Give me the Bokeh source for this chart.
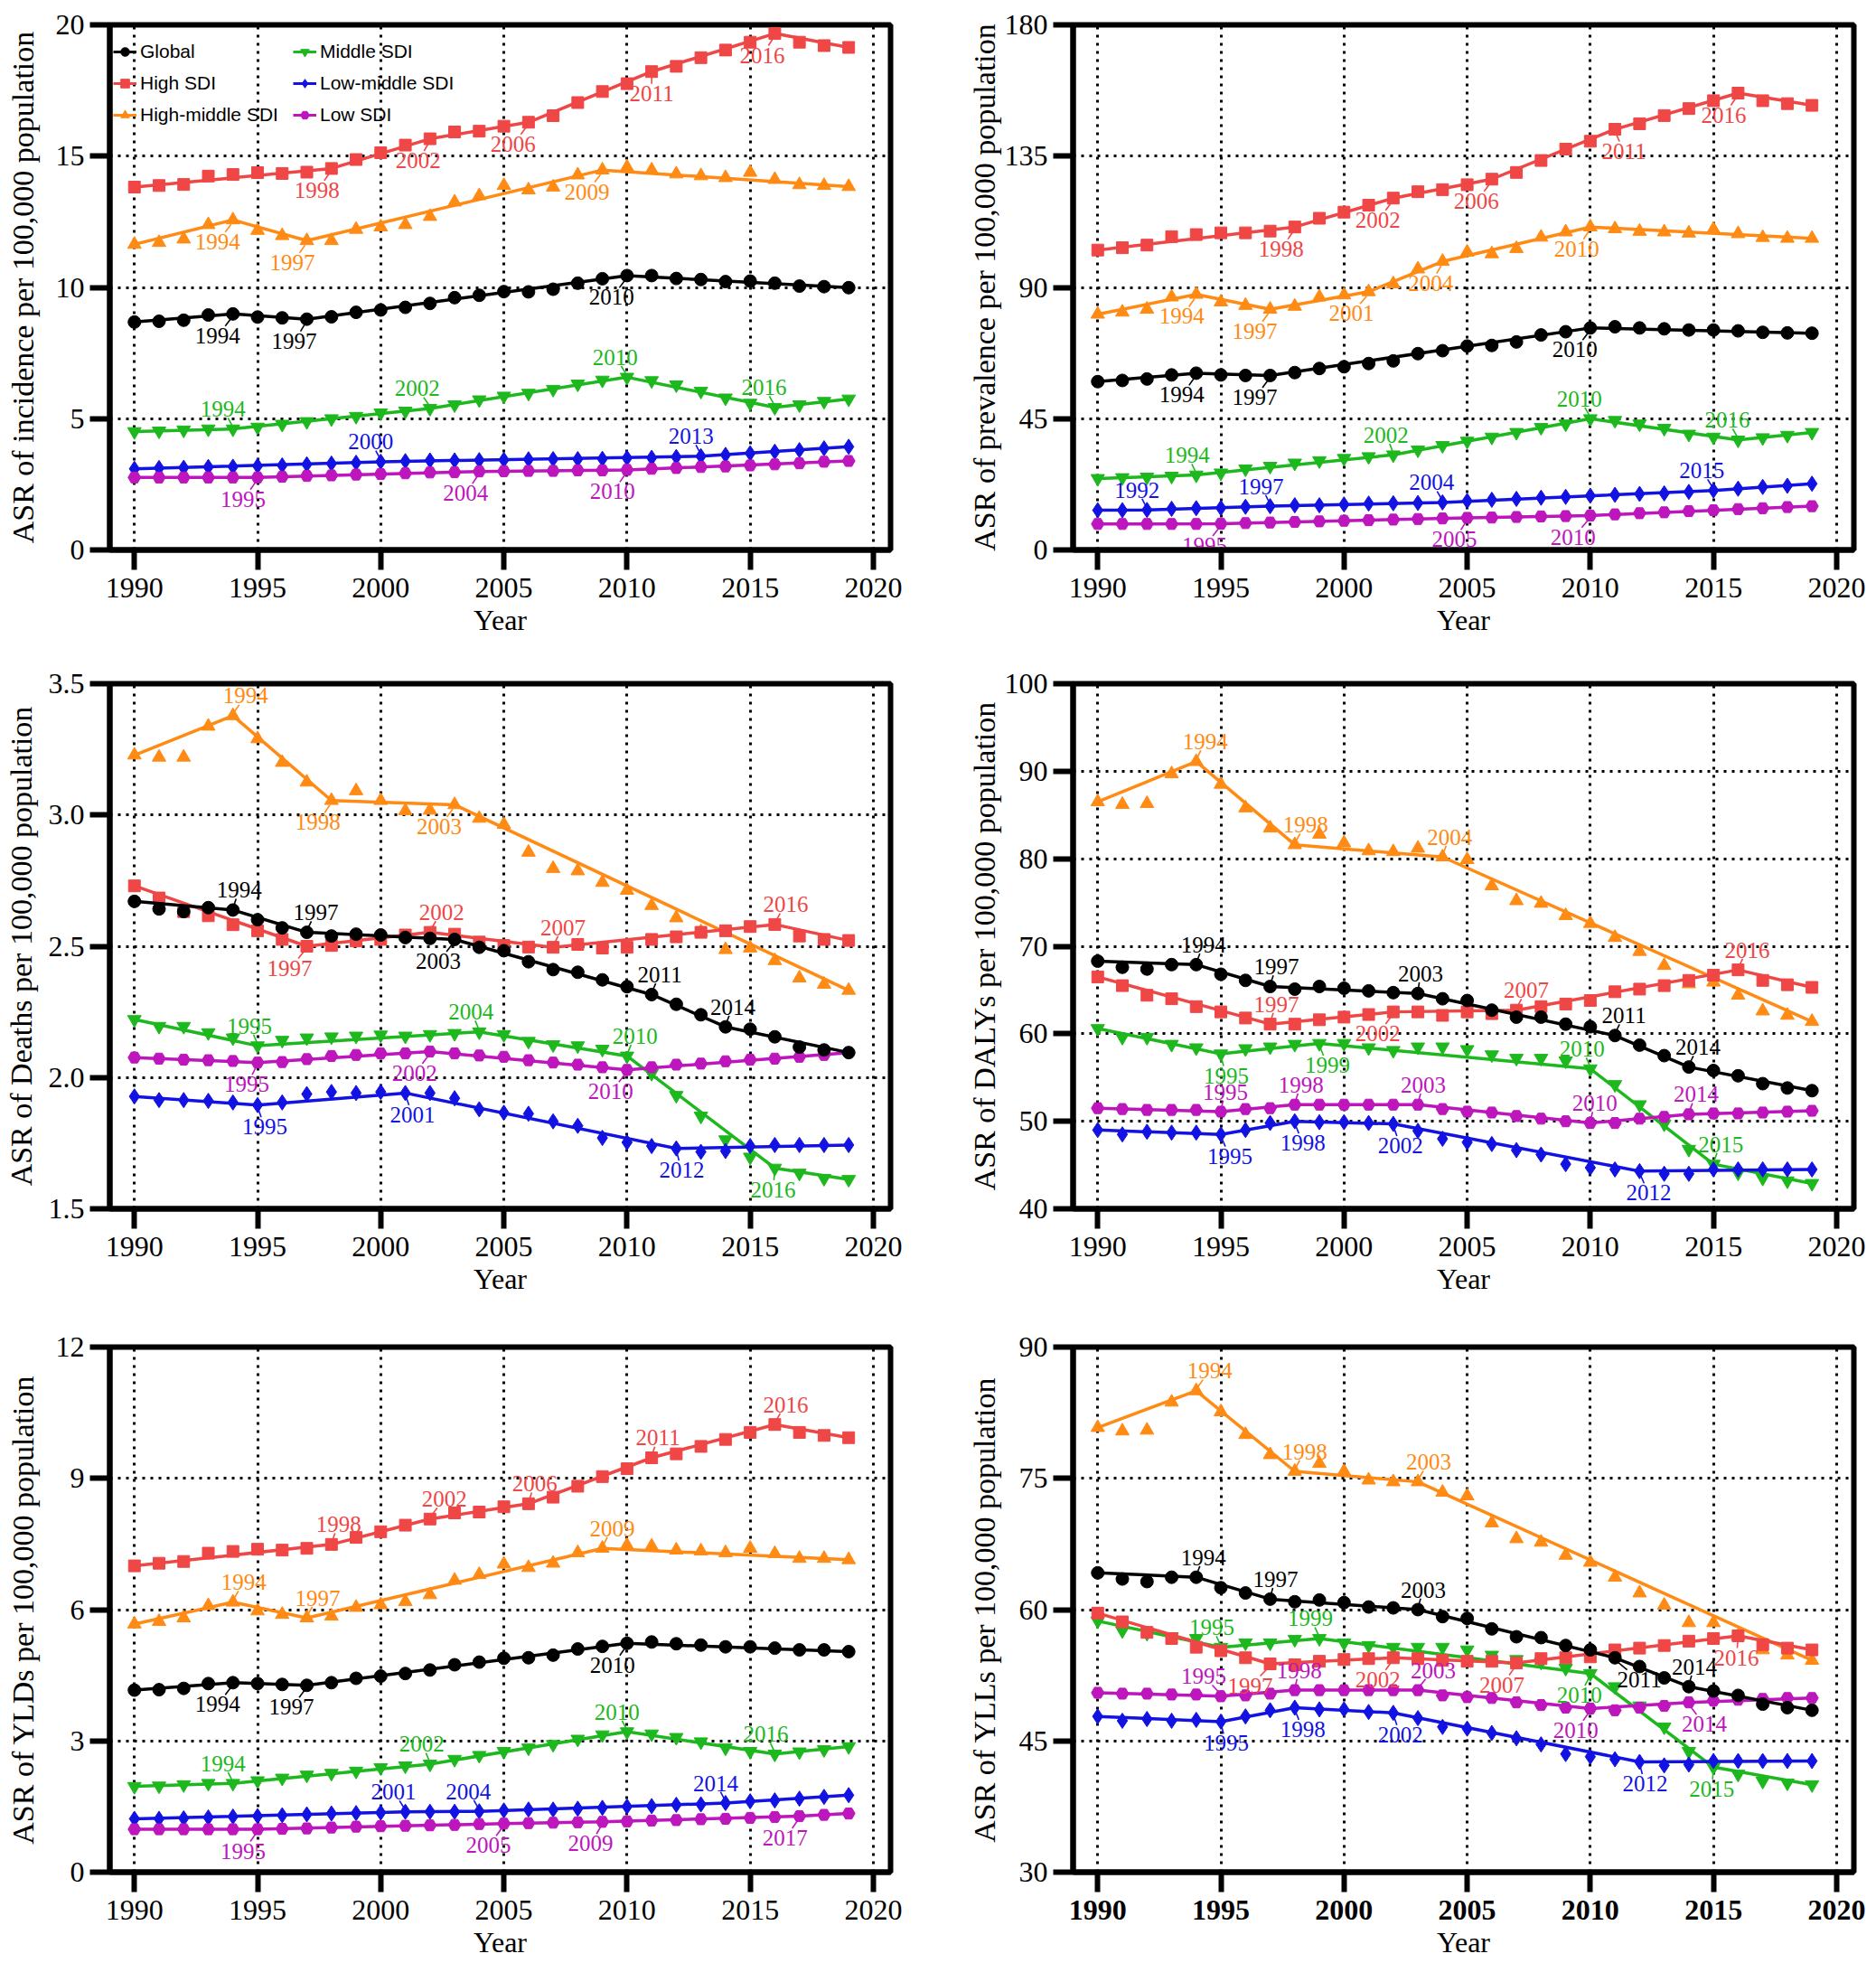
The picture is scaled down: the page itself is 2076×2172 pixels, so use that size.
from bokeh.plotting import figure
from bokeh.models import Range1d, FixedTicker, Legend, LegendItem, NumeralTickFormatter, ColumnDataSource
from bokeh.layouts import gridplot
from bokeh.embed import file_html
from bokeh.resources import INLINE
from bokeh.core.properties import value

YEARS = list(range(1990, 2020))
X_TICKS = [1990, 1995, 2000, 2005, 2010, 2015, 2020]
SERIES = ["Global", "High SDI", "High-middle SDI", "Middle SDI", "Low-middle SDI", "Low SDI"]

# ---------------- Incidence ----------------
inc_ticks = [0, 5, 10, 15, 20]
inc_global = [8.68, 8.71, 8.75, 8.95, 8.99, 8.87, 8.84, 8.79, 8.88, 9.05, 9.14, 9.24, 9.39, 9.61, 9.70,
              9.84, 9.83, 9.93, 10.16, 10.33, 10.45, 10.45, 10.34, 10.30, 10.22, 10.24, 10.16, 10.05, 10.03, 9.99]
inc_high = [13.82, 13.88, 13.92, 14.24, 14.30, 14.37, 14.34, 14.39, 14.53, 14.87, 15.13, 15.42, 15.66, 15.92, 15.95,
            16.14, 16.29, 16.54, 17.04, 17.46, 17.76, 18.22, 18.42, 18.75, 19.04, 19.34, 19.67, 19.34, 19.21, 19.14]
inc_hm = [11.64, 11.71, 11.84, 12.39, 12.57, 12.17, 11.97, 11.78, 11.78, 12.21, 12.30, 12.39, 12.70, 13.25, 13.49,
          13.88, 13.71, 13.82, 14.28, 14.47, 14.58, 14.47, 14.32, 14.25, 14.18, 14.38, 14.11, 13.91, 13.88, 13.84]
inc_mid = [4.51, 4.53, 4.57, 4.61, 4.61, 4.68, 4.79, 4.89, 5.00, 5.09, 5.22, 5.29, 5.39, 5.53, 5.72,
           5.86, 5.97, 6.12, 6.32, 6.47, 6.58, 6.45, 6.29, 6.05, 5.79, 5.59, 5.43, 5.53, 5.66, 5.75]
inc_lm = [3.09, 3.12, 3.13, 3.16, 3.17, 3.20, 3.22, 3.26, 3.29, 3.32, 3.36, 3.38, 3.41, 3.41, 3.42,
          3.43, 3.45, 3.46, 3.46, 3.47, 3.50, 3.51, 3.54, 3.57, 3.62, 3.68, 3.74, 3.80, 3.87, 3.93]
inc_low = [2.76, 2.76, 2.76, 2.76, 2.76, 2.76, 2.79, 2.82, 2.84, 2.87, 2.89, 2.92, 2.95, 2.96, 2.99,
           3.00, 3.01, 3.01, 3.03, 3.03, 3.05, 3.09, 3.12, 3.16, 3.18, 3.22, 3.26, 3.30, 3.36, 3.39]
inc_joinpoints = {"Global": [1994, 1997, 2010], "High SDI": [1998, 2002, 2006, 2011, 2016],
                  "High-middle SDI": [1994, 1997, 2009], "Middle SDI": [1994, 2002, 2010, 2016],
                  "Low-middle SDI": [2000, 2013], "Low SDI": [1995, 2004, 2010]}

# ---------------- Prevalence ----------------
prev_ticks = [0, 45, 90, 135, 180]
prev_global = [57.7, 58.1, 58.6, 60.0, 60.6, 60.0, 59.8, 59.8, 60.8, 62.2, 62.8, 63.9, 64.8, 67.3, 68.3,
               69.9, 70.1, 71.3, 73.7, 74.8, 76.1, 76.5, 76.1, 75.8, 75.4, 75.4, 75.1, 74.6, 74.4, 74.3]
prev_high = [102.8, 103.6, 104.5, 107.4, 108.1, 108.7, 108.7, 109.3, 110.7, 113.7, 115.8, 118.2, 120.6, 122.8, 123.5,
             125.2, 127.1, 129.4, 133.5, 137.4, 140.1, 144.2, 146.1, 148.9, 151.3, 154.0, 156.6, 154.0, 153.0, 152.4]
prev_hm = [80.8, 81.5, 82.5, 86.7, 87.6, 85.0, 83.8, 82.5, 83.5, 86.7, 87.4, 88.5, 91.2, 96.3, 98.9,
           102.1, 101.5, 103.3, 107.2, 109.0, 110.7, 110.1, 109.2, 109.0, 108.6, 109.9, 108.4, 107.1, 106.8, 106.8]
prev_mid = [24.5, 24.8, 25.0, 25.3, 25.7, 26.4, 27.8, 28.7, 29.8, 30.6, 31.4, 32.0, 32.6, 34.3, 35.8,
            37.3, 38.7, 40.3, 42.0, 43.2, 45.0, 44.4, 43.2, 41.7, 39.7, 38.7, 37.7, 38.5, 39.3, 40.3]
prev_lm = [13.6, 13.6, 13.7, 14.1, 14.3, 14.4, 14.8, 15.0, 15.3, 15.3, 15.6, 15.9, 16.0, 16.1, 16.3,
           16.8, 17.2, 17.5, 17.9, 18.2, 18.6, 18.9, 19.2, 19.4, 19.9, 20.4, 21.0, 21.6, 22.0, 22.7]
prev_low = [8.9, 8.9, 8.9, 8.9, 8.9, 9.0, 9.2, 9.4, 9.6, 9.8, 10.0, 10.2, 10.4, 10.6, 10.8,
            11.0, 11.1, 11.3, 11.5, 11.6, 11.8, 12.2, 12.6, 12.9, 13.3, 13.6, 14.0, 14.3, 14.7, 15.0]
prev_joinpoints = {"Global": [1994, 1997, 2010], "High SDI": [1998, 2002, 2006, 2011, 2016],
                   "High-middle SDI": [1994, 1997, 2001, 2004, 2010], "Middle SDI": [1994, 2002, 2010, 2016],
                   "Low-middle SDI": [1992, 1997, 2004, 2015], "Low SDI": [1995, 2005, 2010]}

# ---------------- Deaths ----------------
death_ticks = [1.5, 2.0, 2.5, 3.0, 3.5]
death_global = [2.671, 2.642, 2.632, 2.647, 2.638, 2.601, 2.570, 2.553, 2.539, 2.546, 2.543, 2.533, 2.530, 2.526, 2.496,
                2.483, 2.441, 2.411, 2.401, 2.372, 2.346, 2.316, 2.279, 2.239, 2.193, 2.184, 2.155, 2.116, 2.105, 2.095]
death_high = [2.730, 2.684, 2.632, 2.616, 2.582, 2.559, 2.526, 2.500, 2.503, 2.520, 2.526, 2.543, 2.553, 2.546, 2.516,
              2.503, 2.497, 2.496, 2.507, 2.493, 2.496, 2.526, 2.536, 2.553, 2.559, 2.575, 2.583, 2.539, 2.526, 2.522]
death_hm = [3.228, 3.220, 3.220, 3.338, 3.378, 3.290, 3.200, 3.125, 3.055, 3.092, 3.055, 3.016, 3.018, 3.039, 2.987,
            2.964, 2.858, 2.796, 2.787, 2.743, 2.713, 2.655, 2.608, 2.555, 2.487, 2.493, 2.445, 2.379, 2.355, 2.332]
death_mid = [2.221, 2.195, 2.195, 2.171, 2.151, 2.121, 2.142, 2.151, 2.155, 2.158, 2.162, 2.158, 2.164, 2.168, 2.174,
             2.164, 2.138, 2.125, 2.121, 2.108, 2.082, 2.016, 1.932, 1.853, 1.763, 1.697, 1.655, 1.636, 1.616, 1.612]
death_lm = [1.928, 1.914, 1.914, 1.911, 1.905, 1.895, 1.905, 1.937, 1.945, 1.941, 1.945, 1.941, 1.941, 1.921, 1.879,
            1.866, 1.862, 1.833, 1.816, 1.770, 1.753, 1.739, 1.730, 1.717, 1.720, 1.739, 1.743, 1.743, 1.743, 1.743]
death_low = [2.076, 2.072, 2.068, 2.066, 2.063, 2.057, 2.059, 2.070, 2.082, 2.086, 2.092, 2.092, 2.099, 2.092, 2.084,
             2.079, 2.066, 2.057, 2.049, 2.039, 2.029, 2.039, 2.049, 2.053, 2.062, 2.068, 2.072, 2.079, 2.086, 2.095]
death_joinpoints = {"Global": [1994, 1997, 2003, 2011, 2014], "High SDI": [1997, 2002, 2007, 2016],
                    "High-middle SDI": [1994, 1998, 2003], "Middle SDI": [1995, 2004, 2010, 2016],
                    "Low-middle SDI": [1995, 2001, 2012], "Low SDI": [1995, 2002, 2010]}

# ---------------- DALYs ----------------
daly_ticks = [40, 50, 60, 70, 80, 90, 100]
daly_global = [68.3, 67.6, 67.4, 67.9, 67.9, 66.8, 66.1, 65.4, 65.1, 65.4, 65.2, 64.9, 64.7, 64.6, 64.0,
               63.8, 62.7, 61.9, 61.9, 61.1, 60.8, 59.8, 58.7, 57.5, 56.2, 55.8, 55.2, 54.3, 53.8, 53.5]
daly_high = [66.5, 65.5, 64.4, 64.0, 63.1, 62.5, 61.8, 61.1, 61.1, 61.6, 61.9, 62.2, 62.5, 62.5, 62.1,
             62.5, 62.3, 62.7, 63.1, 63.4, 63.8, 64.8, 65.1, 65.5, 66.1, 66.7, 67.3, 66.1, 65.6, 65.3]
daly_hm = [86.5, 86.2, 86.3, 89.7, 91.1, 88.5, 85.8, 83.5, 81.6, 82.8, 81.8, 80.9, 80.8, 81.2, 80.2,
           79.9, 76.9, 75.2, 74.9, 73.5, 72.6, 71.0, 69.4, 67.8, 65.7, 65.9, 64.4, 62.6, 62.1, 61.4]
daly_mid = [60.6, 59.6, 59.6, 58.8, 58.4, 57.7, 58.3, 58.5, 58.8, 58.9, 58.9, 58.4, 58.1, 58.5, 58.5,
            58.2, 57.6, 57.2, 57.2, 56.9, 56.0, 54.2, 51.9, 49.7, 46.8, 45.1, 44.1, 43.5, 43.2, 42.9]
daly_lm = [49.0, 48.5, 48.8, 48.7, 48.7, 48.5, 49.0, 49.8, 50.0, 49.9, 49.9, 49.8, 49.7, 48.9, 48.0,
           47.6, 47.4, 46.7, 46.2, 45.1, 44.7, 44.5, 44.3, 44.0, 44.0, 44.5, 44.5, 44.5, 44.5, 44.5]
daly_low = [51.5, 51.4, 51.3, 51.3, 51.3, 51.1, 51.4, 51.5, 51.9, 51.9, 51.9, 51.9, 51.9, 51.9, 51.4,
            51.1, 51.0, 50.6, 50.3, 50.0, 49.8, 49.8, 50.3, 50.5, 50.8, 50.9, 50.9, 51.0, 51.1, 51.2]
daly_joinpoints = {"Global": [1994, 1997, 2003, 2011, 2014], "High SDI": [1997, 2002, 2007, 2016],
                   "High-middle SDI": [1994, 1998, 2004], "Middle SDI": [1995, 1999, 2010, 2015],
                   "Low-middle SDI": [1995, 1998, 2002, 2012], "Low SDI": [1995, 1998, 2003, 2010, 2014]}

# ---------------- YLDs ----------------
yld_ticks = [0, 3, 6, 9, 12]
yld_global = [4.16, 4.17, 4.20, 4.31, 4.33, 4.31, 4.29, 4.27, 4.33, 4.43, 4.48, 4.54, 4.62, 4.74, 4.80,
              4.89, 4.90, 4.96, 5.10, 5.16, 5.23, 5.26, 5.22, 5.19, 5.15, 5.15, 5.12, 5.08, 5.08, 5.04]
yld_high = [7.00, 7.06, 7.10, 7.29, 7.33, 7.38, 7.36, 7.40, 7.49, 7.65, 7.78, 7.93, 8.07, 8.21, 8.23,
            8.35, 8.42, 8.57, 8.82, 9.04, 9.22, 9.47, 9.56, 9.73, 9.89, 10.05, 10.23, 10.05, 9.98, 9.93]
yld_hm = [5.67, 5.73, 5.81, 6.09, 6.17, 5.97, 5.89, 5.81, 5.85, 6.05, 6.11, 6.18, 6.34, 6.67, 6.80,
          7.04, 6.96, 7.06, 7.30, 7.40, 7.47, 7.45, 7.36, 7.34, 7.30, 7.40, 7.28, 7.17, 7.17, 7.14]
yld_mid = [1.96, 1.97, 2.00, 2.03, 2.03, 2.09, 2.15, 2.22, 2.26, 2.31, 2.39, 2.43, 2.47, 2.58, 2.67,
           2.76, 2.84, 2.92, 3.04, 3.14, 3.21, 3.16, 3.08, 2.98, 2.84, 2.76, 2.70, 2.75, 2.80, 2.87]
yld_lm = [1.22, 1.22, 1.23, 1.25, 1.27, 1.28, 1.30, 1.32, 1.34, 1.35, 1.36, 1.38, 1.38, 1.38, 1.39,
          1.41, 1.43, 1.43, 1.45, 1.47, 1.50, 1.51, 1.54, 1.55, 1.58, 1.62, 1.64, 1.68, 1.72, 1.76]
yld_low = [0.98, 0.98, 0.98, 0.98, 0.98, 0.98, 0.99, 1.00, 1.02, 1.04, 1.05, 1.06, 1.07, 1.08, 1.10,
           1.11, 1.12, 1.13, 1.14, 1.15, 1.16, 1.18, 1.19, 1.21, 1.22, 1.24, 1.26, 1.28, 1.31, 1.34]
yld_joinpoints = {"Global": [1994, 1997, 2010], "High SDI": [1998, 2002, 2006, 2011, 2016],
                  "High-middle SDI": [1994, 1997, 2009], "Middle SDI": [1994, 2002, 2010, 2016],
                  "Low-middle SDI": [2001, 2004, 2014], "Low SDI": [1995, 2005, 2009, 2017]}

# ---------------- YLLs ----------------
yll_ticks = [30, 45, 60, 75, 90]
yll_global = [64.2, 63.5, 63.2, 63.7, 63.7, 62.5, 61.9, 61.2, 60.9, 61.1, 60.8, 60.3, 60.2, 60.0, 59.2,
              59.0, 57.8, 56.9, 56.8, 55.9, 55.4, 54.5, 53.5, 52.2, 51.2, 50.7, 50.2, 49.2, 48.8, 48.5]
yll_high = [59.6, 58.6, 57.4, 56.7, 55.7, 55.3, 54.5, 53.8, 53.7, 54.1, 54.3, 54.4, 54.5, 54.4, 54.2,
            54.1, 54.1, 53.9, 54.4, 54.5, 54.6, 55.4, 55.6, 55.9, 56.4, 56.7, 57.0, 56.0, 55.6, 55.4]
yll_hm = [80.8, 80.4, 80.5, 83.7, 85.0, 82.6, 80.0, 77.7, 75.8, 76.7, 75.8, 74.8, 74.6, 74.6, 73.4,
          73.0, 69.9, 68.1, 67.7, 66.2, 65.4, 63.7, 61.9, 60.5, 58.5, 58.5, 57.0, 55.4, 54.8, 54.2]
yll_mid = [58.7, 57.6, 57.3, 56.9, 56.7, 55.7, 56.2, 56.2, 56.6, 56.7, 56.2, 55.9, 55.7, 55.7, 55.7,
           55.4, 54.8, 54.3, 54.0, 53.3, 52.7, 51.2, 49.0, 46.6, 43.8, 42.0, 41.2, 40.4, 40.2, 40.0]
yll_lm = [47.8, 47.3, 47.5, 47.3, 47.4, 47.2, 47.8, 48.5, 48.8, 48.6, 48.6, 48.3, 48.2, 47.6, 46.6,
          46.4, 45.9, 45.3, 44.6, 43.5, 43.2, 42.9, 42.6, 42.2, 42.3, 42.7, 42.7, 42.7, 42.7, 42.7]
yll_low = [50.5, 50.4, 50.4, 50.3, 50.3, 50.1, 50.2, 50.4, 50.8, 50.8, 50.8, 50.8, 50.8, 50.8, 50.2,
           50.0, 49.9, 49.4, 49.1, 48.8, 48.7, 48.5, 48.8, 49.0, 49.4, 49.6, 49.7, 49.8, 49.9, 49.9]
yll_joinpoints = {"Global": [1994, 1997, 2003, 2011, 2014], "High SDI": [1997, 2002, 2007, 2016],
                  "High-middle SDI": [1994, 1998, 2003], "Middle SDI": [1995, 1999, 2010, 2015],
                  "Low-middle SDI": [1995, 1998, 2002, 2012], "Low SDI": [1995, 1998, 2003, 2010, 2014]}

# ---------------- styles ----------------
COLORS = {"Global": "#000000", "High SDI": "#EF4646", "High-middle SDI": "#FF8A14",
          "Middle SDI": "#1DB81D", "Low-middle SDI": "#1212E2", "Low SDI": "#BC16BC"}
MARKERS = {"Global": "circle", "High SDI": "square", "High-middle SDI": "triangle",
           "Middle SDI": "inverted_triangle", "Low-middle SDI": "diamond", "Low SDI": "hex"}
MSIZE = {"Global": 14, "High SDI": 13, "High-middle SDI": 15, "Middle SDI": 15,
         "Low-middle SDI": 17, "Low SDI": 14}
LEG_MSIZE = {"Global": 11, "High SDI": 11, "High-middle SDI": 12, "Middle SDI": 12,
             "Low-middle SDI": 13, "Low SDI": 11}
DRAW_ORDER = ["High-middle SDI", "Middle SDI", "Low-middle SDI", "Low SDI", "High SDI", "Global"]

# label placement per joinpoint: (side, horizontal pixel shift)
LABEL_POS = [
    {"Global": [("b", -17), ("b", -14), ("b", -17)],
     "High SDI": [("b", -16), ("b", -13), ("b", -17), ("b", 0), ("b", -14)],
     "High-middle SDI": [("b", -17), ("b", -16), ("b", -17)],
     "Middle SDI": [("a", -11), ("a", -14), ("a", -13), ("a", -12)],
     "Low-middle SDI": [("a", -11), ("a", -11)],
     "Low SDI": [("b", -16), ("b", -15), ("b", -16)]},
    {"Global": [("b", -16), ("b", -17), ("b", -17)],
     "High SDI": [("b", -15), ("b", -17), ("b", -17), ("b", 10), ("b", -16)],
     "High-middle SDI": [("b", -16), ("b", -17), ("b", -19), ("b", -13), ("b", -15)],
     "Middle SDI": [("a", -10), ("a", -8), ("a", -12), ("a", -12)],
     "Low-middle SDI": [("a", -11), ("a", -10), ("a", -12), ("a", -13)],
     "Low SDI": [("b", -18), ("b", -14), ("b", -19)]},
    {"Global": [("a", 7), ("a", 10), ("b", -18), ("a", 9), ("a", 8)],
     "High SDI": [("b", -19), ("a", 13), ("a", 11), ("a", 12)],
     "High-middle SDI": [("a", 14), ("b", -15), ("b", -17)],
     "Middle SDI": [("a", -9), ("a", -9), ("a", 9), ("b", -2)],
     "Low-middle SDI": [("b", 8), ("b", 8), ("b", 6)],
     "Low SDI": [("b", -12), ("b", -17), ("b", -18)]},
    {"Global": [("a", 8), ("a", 7), ("a", 3), ("a", 10), ("a", 10)],
     "High SDI": [("a", 7), ("b", -17), ("a", 11), ("a", 10)],
     "High-middle SDI": [("a", 10), ("a", 12), ("a", 8)],
     "Middle SDI": [("b", 6), ("b", 9), ("a", -9), ("a", 8)],
     "Low-middle SDI": [("b", 10), ("b", 9), ("b", 8), ("b", 10)],
     "Low SDI": [("a", 5), ("a", 7), ("a", 6), ("a", 5), ("a", 8)]},
    {"Global": [("b", -17), ("b", -17), ("b", -16)],
     "High SDI": [("a", 8), ("a", 16), ("a", 7), ("a", 7), ("a", 12)],
     "High-middle SDI": [("a", 12), ("a", 12), ("a", 11)],
     "Middle SDI": [("a", -11), ("a", -9), ("a", -11), ("a", -10)],
     "Low-middle SDI": [("a", -13), ("a", -12), ("a", -11)],
     "Low SDI": [("b", -16), ("b", -17), ("b", -13), ("b", -16)]},
    {"Global": [("a", 8), ("a", 6), ("a", 6), ("b", 27), ("a", 6)],
     "High SDI": [("b", -22), ("b", -17), ("b", -16), ("b", -2)],
     "High-middle SDI": [("a", 15), ("a", 11), ("a", 12)],
     "Middle SDI": [("a", -10), ("a", -10), ("b", -12), ("b", -2)],
     "Low-middle SDI": [("b", 6), ("b", 9), ("b", 8), ("b", 6)],
     "Low SDI": [("a", -19), ("a", 5), ("a", 17), ("b", -16), ("b", 17)]},
]

PANELS = [
    dict(ylabel="ASR of incidence per 100,000 population", yrange=(0, 20), yticks=inc_ticks,
         data=dict(zip(SERIES, [inc_global, inc_high, inc_hm, inc_mid, inc_lm, inc_low])),
         jp=inc_joinpoints, ylab_standoff=15, fmt=None),
    dict(ylabel="ASR of prevalence per 100,000 population", yrange=(0, 180), yticks=prev_ticks,
         data=dict(zip(SERIES, [prev_global, prev_high, prev_hm, prev_mid, prev_lm, prev_low])),
         jp=prev_joinpoints, ylab_standoff=1, fmt=None),
    dict(ylabel="ASR of Deaths per 100,000 population", yrange=(1.5, 3.5), yticks=death_ticks,
         data=dict(zip(SERIES, [death_global, death_high, death_hm, death_mid, death_lm, death_low])),
         jp=death_joinpoints, ylab_standoff=9, fmt="0.0"),
    dict(ylabel="ASR of DALYs per 100,000 population", yrange=(40, 100), yticks=daly_ticks,
         data=dict(zip(SERIES, [daly_global, daly_high, daly_hm, daly_mid, daly_lm, daly_low])),
         jp=daly_joinpoints, ylab_standoff=1, fmt=None),
    dict(ylabel="ASR of YLDs per 100,000 population", yrange=(0, 12), yticks=yld_ticks,
         data=dict(zip(SERIES, [yld_global, yld_high, yld_hm, yld_mid, yld_lm, yld_low])),
         jp=yld_joinpoints, ylab_standoff=15, fmt=None),
    dict(ylabel="ASR of YLLs per 100,000 population", yrange=(30, 90), yticks=yll_ticks,
         data=dict(zip(SERIES, [yll_global, yll_high, yll_hm, yll_mid, yll_lm, yll_low])),
         jp=yll_joinpoints, ylab_standoff=17, fmt=None),
]

X0, X1 = 1989.0, 2020.7
FRAME_W, FRAME_H = 864, 581
ROW_H = [729, 734, 709]
COL_W = [1038, 1038]
COL_BL = [121, 149]
BORDER_TOP = 27
SERIF = "Liberation Serif"
DY_BELOW, DY_ABOVE = 24, -22


def build(idx, spec):
    row, col = divmod(idx, 2)
    W = COL_W[col]
    H = ROW_H[row]
    bl = COL_BL[col]
    br = W - bl - FRAME_W
    bt = BORDER_TOP
    bb = H - bt - FRAME_H
    y0, y1 = spec["yrange"]
    p = figure(width=W, height=H, x_range=Range1d(X0, X1), y_range=Range1d(y0, y1),
               output_backend="svg", toolbar_location=None,
               min_border_left=bl, min_border_right=br, min_border_top=bt, min_border_bottom=bb)
    p.outline_line_color = "black"
    p.outline_line_width = 6
    p.outline_line_alpha = 1
    p.background_fill_color = "white"
    p.border_fill_color = "white"

    for ax in (p.xaxis[0], p.yaxis[0]):
        ax.axis_line_width = 6
        ax.axis_line_color = "black"
        ax.major_tick_line_width = 6
        ax.major_tick_line_color = "black"
        ax.major_tick_out = 22
        ax.major_tick_in = 0
        ax.minor_tick_line_color = None
        ax.major_label_text_font = SERIF
        ax.major_label_text_font_size = "32px"
        ax.major_label_text_color = "black"
        ax.axis_label_text_font = SERIF
        ax.axis_label_text_font_style = "normal"
        ax.axis_label_text_color = "black"
    p.xaxis.axis_label_text_font_size = "32px"
    p.yaxis.axis_label_text_font_size = "34px"
    p.xaxis.ticker = FixedTicker(ticks=X_TICKS)
    p.yaxis.ticker = FixedTicker(ticks=spec["yticks"])
    if spec["fmt"]:
        p.yaxis.formatter = NumeralTickFormatter(format=spec["fmt"])
    p.xaxis.axis_label = "Year"
    p.yaxis.axis_label = spec["ylabel"]
    p.xaxis.major_label_standoff = 9
    p.xaxis.axis_label_standoff = 4
    p.yaxis.major_label_standoff = 6
    p.yaxis.axis_label_standoff = spec["ylab_standoff"]
    if idx == 5:
        p.xaxis.major_label_text_font_style = "bold"

    p.xgrid.ticker = FixedTicker(ticks=X_TICKS)
    p.ygrid.ticker = FixedTicker(ticks=spec["yticks"])
    for g in (p.xgrid[0], p.ygrid[0]):
        g.grid_line_color = "black"
        g.grid_line_dash = "3 6"
        g.grid_line_width = 3
        g.grid_line_alpha = 1

    pxx = FRAME_W / (X1 - X0)
    pxy = FRAME_H / (y1 - y0)

    for name in DRAW_ORDER:
        vals = spec["data"][name]
        color = COLORS[name]
        jyears = [1990] + spec["jp"][name] + [2019]
        jvals = [vals[y - 1990] for y in jyears]
        p.line(jyears, jvals, line_color=color, line_width=3.5)
        p.scatter(YEARS, vals, marker=MARKERS[name], size=MSIZE[name],
                  fill_color=color, line_color=color)

    for name in SERIES:
        vals = spec["data"][name]
        color = COLORS[name]
        xs, ys, txt, dxs, dys = [], [], [], [], []
        sx0, sy0, sx1, sy1 = [], [], [], []
        for yr, (side, dx) in zip(spec["jp"][name], LABEL_POS[idx][name]):
            v = vals[yr - 1990]
            dy = DY_BELOW if side == "b" else DY_ABOVE
            xs.append(yr)
            ys.append(v)
            txt.append(str(yr))
            dxs.append(dx)
            dys.append(dy)
            sx0.append(yr + 0.12 * dx / pxx)
            sy0.append(v - 0.2 * dy / pxy)
            sx1.append(yr + 0.5 * dx / pxx)
            sy1.append(v - 0.56 * dy / pxy)
        p.segment(sx0, sy0, sx1, sy1, line_color=color, line_width=1.6)
        src = ColumnDataSource(dict(x=xs, y=ys, text=txt, dx=dxs, dy=dys))
        p.text(x="x", y="y", text="text", x_offset="dx", y_offset="dy", source=src,
               text_color=color, text_font=value(SERIF), text_font_size=value("25px"),
               text_align="center", text_baseline="middle")

    if idx == 0:
        # legend-only renderers placed outside the visible x range
        off_x = [X0 - 20, X0 - 19]
        off_y = [y0, y0]
        items = []
        for n in SERIES:
            lr = p.line(off_x, off_y, line_color=COLORS[n], line_width=3)
            sr = p.scatter(off_x, off_y, marker=MARKERS[n], size=LEG_MSIZE[n],
                           fill_color=COLORS[n], line_color=COLORS[n])
            items.append(LegendItem(label=n, renderers=[lr, sr]))
        row_h, gap = 24, 11
        leg_h = 3 * row_h + 2 * gap
        leg = Legend(items=items, ncols=2, location=(4, FRAME_H - 18 - leg_h),
                     padding=0, margin=0, spacing=gap, glyph_width=26, glyph_height=row_h,
                     label_height=row_h, label_width=158, label_standoff=4,
                     label_text_font="Liberation Sans", label_text_font_size="21px",
                     label_text_color="black",
                     background_fill_alpha=0, border_line_alpha=0)
        p.add_layout(leg)
    return p


plots = [build(i, s) for i, s in enumerate(PANELS)]
grid = gridplot([[plots[0], plots[1]], [plots[2], plots[3]], [plots[4], plots[5]]],
                toolbar_location=None)

open("out.html", "w").write(file_html(grid, INLINE))
